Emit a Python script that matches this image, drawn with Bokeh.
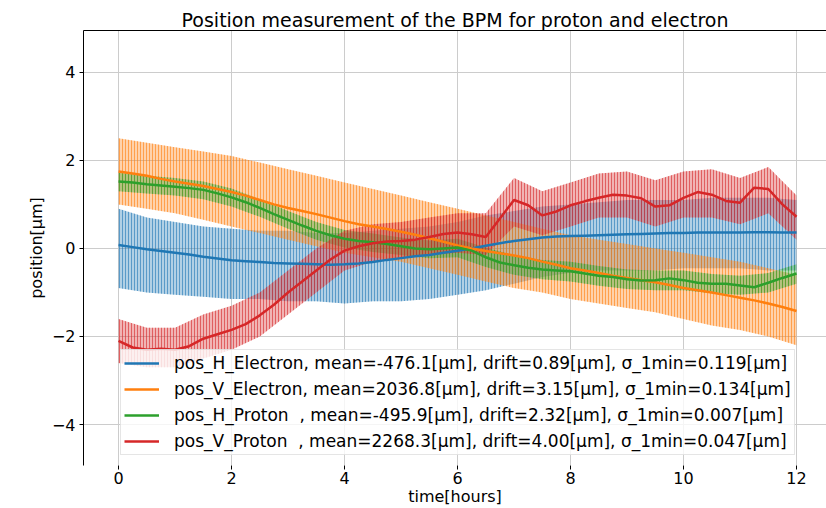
from bokeh.plotting import figure
from bokeh.models import Range1d, LinearAxis, FixedTicker, Legend, LegendItem
from bokeh.embed import file_html
from bokeh.resources import INLINE

# ---- data ----
t_line = [0, 0.25, 0.5, 0.75, 1, 1.25, 1.5, 1.75, 2, 2.25, 2.5, 2.75, 3, 3.25, 3.5, 3.75,
          4, 4.25, 4.5, 4.75, 5, 5.25, 5.5, 5.75, 6, 6.25, 6.5, 6.75, 7, 7.25, 7.5, 7.75,
          8, 8.25, 8.5, 8.75, 9, 9.25, 9.5, 9.75, 10, 10.25, 10.5, 10.75, 11, 11.25, 11.5, 11.75, 12]

h_electron = [0.08, 0.03, -0.02, -0.06, -0.1, -0.14, -0.19, -0.23, -0.27, -0.29, -0.31, -0.33,
              -0.34, -0.35, -0.36, -0.37, -0.36, -0.34, -0.31, -0.26, -0.22, -0.18, -0.15, -0.1,
              -0.05, 0.0, 0.06, 0.12, 0.17, 0.21, 0.25, 0.27, 0.28, 0.29, 0.3, 0.31, 0.32, 0.33,
              0.34, 0.35, 0.35, 0.36, 0.36, 0.36, 0.36, 0.37, 0.37, 0.36, 0.36]
v_electron = [1.75, 1.7, 1.65, 1.58, 1.52, 1.47, 1.42, 1.35, 1.28, 1.2, 1.1, 1.0, 0.92, 0.85,
              0.78, 0.7, 0.62, 0.55, 0.5, 0.44, 0.38, 0.31, 0.23, 0.15, 0.07, 0.0, -0.06, -0.11,
              -0.16, -0.22, -0.3, -0.37, -0.45, -0.5, -0.56, -0.62, -0.67, -0.72, -0.77, -0.83,
              -0.9, -0.95, -1.0, -1.06, -1.12, -1.18, -1.25, -1.33, -1.42]
h_proton = [1.52, 1.5, 1.46, 1.43, 1.4, 1.37, 1.33, 1.25, 1.16, 1.05, 0.92, 0.78, 0.65, 0.52,
            0.4, 0.3, 0.22, 0.17, 0.14, 0.1, 0.05, 0.0, -0.02, 0.0, 0.02, -0.05, -0.2, -0.32,
            -0.38, -0.44, -0.48, -0.5, -0.52, -0.57, -0.62, -0.65, -0.7, -0.73, -0.72, -0.68,
            -0.72, -0.78, -0.8, -0.8, -0.84, -0.88, -0.78, -0.67, -0.57]
v_proton = [-2.1, -2.25, -2.3, -2.28, -2.3, -2.22, -2.05, -1.95, -1.85, -1.72, -1.52, -1.28,
            -1.0, -0.75, -0.5, -0.25, -0.05, 0.05, 0.12, 0.16, 0.17, 0.2, 0.26, 0.33, 0.36, 0.32,
            0.26, 0.68, 1.1, 0.98, 0.75, 0.84, 0.98, 1.07, 1.15, 1.22, 1.2, 1.14, 0.95, 0.98,
            1.15, 1.28, 1.22, 1.08, 1.04, 1.38, 1.35, 1.0, 0.72]

# raw-signal spread (lower / upper envelope of the noisy traces)
t_band = [0, 0.5, 1, 1.5, 2, 2.5, 3, 3.5, 4, 4.5, 5, 5.5, 6, 6.5, 7, 7.5, 8, 8.5, 9, 9.5,
          10, 10.5, 11, 11.5, 12]
h_electron_lo = [-0.9, -1.0, -1.05, -1.1, -1.15, -1.15, -1.2, -1.2, -1.25, -1.2, -1.2, -1.15,
                 -1.05, -0.95, -0.8, -0.65, -0.55, -0.5, -0.5, -0.5, -0.45, -0.45, -0.45, -0.5, -0.5]
h_electron_hi = [0.9, 0.7, 0.6, 0.5, 0.45, 0.4, 0.4, 0.35, 0.35, 0.4, 0.45, 0.5, 0.6, 0.75,
                 0.85, 0.95, 1.0, 1.05, 1.1, 1.1, 1.1, 1.15, 1.15, 1.15, 1.1]
v_electron_lo = [1.0, 0.9, 0.8, 0.65, 0.5, 0.35, 0.2, 0.05, -0.1, -0.2, -0.3, -0.45, -0.6,
                 -0.75, -0.9, -1.0, -1.15, -1.25, -1.35, -1.45, -1.6, -1.75, -1.85, -2.0, -2.2]
v_electron_hi = [2.5, 2.4, 2.3, 2.2, 2.1, 1.95, 1.8, 1.65, 1.5, 1.35, 1.2, 1.05, 0.9, 0.75,
                 0.6, 0.45, 0.3, 0.2, 0.1, 0.0, -0.1, -0.2, -0.3, -0.45, -0.6]
h_proton_lo = [1.3, 1.25, 1.2, 1.12, 0.95, 0.72, 0.45, 0.2, 0.02, -0.08, -0.15, -0.22, -0.2,
               -0.42, -0.6, -0.7, -0.75, -0.85, -0.92, -0.95, -0.95, -1.02, -1.05, -1.0, -0.8]
h_proton_hi = [1.72, 1.65, 1.6, 1.52, 1.36, 1.12, 0.85, 0.6, 0.42, 0.34, 0.25, 0.18, 0.22,
               0.02, -0.16, -0.26, -0.3, -0.4, -0.48, -0.5, -0.5, -0.58, -0.62, -0.56, -0.36]
v_proton_lo = [-2.6, -2.7, -2.7, -2.5, -2.3, -2.0, -1.5, -1.0, -0.5, -0.3, -0.2, -0.15, -0.1,
               -0.15, 0.5, 0.3, 0.5, 0.7, 0.7, 0.5, 0.7, 0.7, 0.55, 0.8, 0.2]
v_proton_hi = [-1.6, -1.8, -1.8, -1.5, -1.3, -1.0, -0.5, 0.0, 0.4, 0.55, 0.6, 0.7, 0.8, 0.8,
               1.6, 1.3, 1.5, 1.7, 1.75, 1.55, 1.75, 1.8, 1.6, 1.85, 1.2]

labels = [
    "pos_H_Electron, mean=-476.1[μm], drift=0.89[μm], σ_1min=0.119[μm]",
    "pos_V_Electron, mean=2036.8[μm], drift=3.15[μm], σ_1min=0.134[μm]",
    "pos_H_Proton  , mean=-495.9[μm], drift=2.32[μm], σ_1min=0.007[μm]",
    "pos_V_Proton  , mean=2268.3[μm], drift=4.00[μm], σ_1min=0.047[μm]",
]
x_ticks = [0, 2, 4, 6, 8, 10, 12]
y_ticks = [-4, -2, 0, 2, 4]

colors = ["#1f77b4", "#ff7f0e", "#2ca02c", "#d62728"]
FONT = "DejaVu Sans"

p = figure(frame_width=743, frame_height=435, output_backend="svg", toolbar_location=None,
           x_range=Range1d(-0.62, 12.53), y_range=Range1d(-4.93, 4.95),
           min_border_left=83, min_border_right=0, min_border_top=30, min_border_bottom=43,
           title="Position measurement of the BPM for proton and electron",
           x_axis_label="time[hours]", y_axis_label="position[μm]")
p.outline_line_color = None
p.background_fill_color = "white"
p.border_fill_color = "white"

p.title.align = "center"
p.title.text_font = FONT
p.title.text_font_size = "19px"
p.title.text_font_style = "normal"
p.title.text_color = "#000000"
p.title.standoff = 0

for ax in (p.xaxis, p.yaxis):
    ax.axis_label_text_font = FONT
    ax.axis_label_text_font_size = "16px"
    ax.axis_label_text_font_style = "normal"
    ax.axis_label_text_color = "#000000"
    ax.major_label_text_font = FONT
    ax.major_label_text_font_size = "16px"
    ax.major_label_text_color = "#000000"
    ax.major_tick_out = 4
    ax.major_tick_in = 0
    ax.minor_tick_line_color = None
    ax.major_tick_line_color = "#000000"
    ax.axis_line_color = "#000000"
p.xaxis.ticker = FixedTicker(ticks=x_ticks)
p.yaxis.ticker = FixedTicker(ticks=y_ticks)
p.yaxis.major_label_overrides = {-4: "\u22124", -2: "\u22122"}
p.xaxis.axis_line_color = None
p.xaxis.axis_label_standoff = 0
p.xaxis.major_label_standoff = 2
p.yaxis.axis_label_standoff = 3
p.yaxis.major_label_standoff = 4

p.xgrid.ticker = FixedTicker(ticks=x_ticks)
p.ygrid.ticker = FixedTicker(ticks=y_ticks)
p.grid.grid_line_color = "#cccccc"
p.grid.grid_line_width = 1

top = LinearAxis(ticker=FixedTicker(ticks=[]), axis_line_color="#000000",
                 major_label_text_font_size="0px", major_tick_line_color=None,
                 minor_tick_line_color=None)
p.add_layout(top, "above")

bands = [(h_electron_lo, h_electron_hi), (v_electron_lo, v_electron_hi),
         (h_proton_lo, h_proton_hi), (v_proton_lo, v_proton_hi)]
for (lo, hi), c in zip(bands, colors):
    p.varea(x=t_band, y1=lo, y2=hi, fill_color=c, fill_alpha=0.35,
            hatch_pattern="vertical_line", hatch_color=c, hatch_alpha=0.6,
            hatch_scale=3, hatch_weight=1)

renderers = []
for ys, c in zip([h_electron, v_electron, h_proton, v_proton], colors):
    r = p.line(t_line, ys, line_color=c, line_width=2.5)
    renderers.append(r)

legend = Legend(items=[LegendItem(label=l, renderers=[r]) for l, r in zip(labels, renderers)],
                location=(37, 10))
legend.label_text_font = FONT
legend.label_text_font_size = "17px"
legend.label_text_color = "#000000"
legend.glyph_width = 35
legend.glyph_height = 20
legend.label_height = 20
legend.label_standoff = 15
legend.spacing = 6
legend.padding = 3
legend.margin = 0
legend.border_line_color = "#cccccc"
legend.background_fill_color = "white"
legend.background_fill_alpha = 0.8
p.add_layout(legend)

open("out.html", "w").write(file_html(p, INLINE))
